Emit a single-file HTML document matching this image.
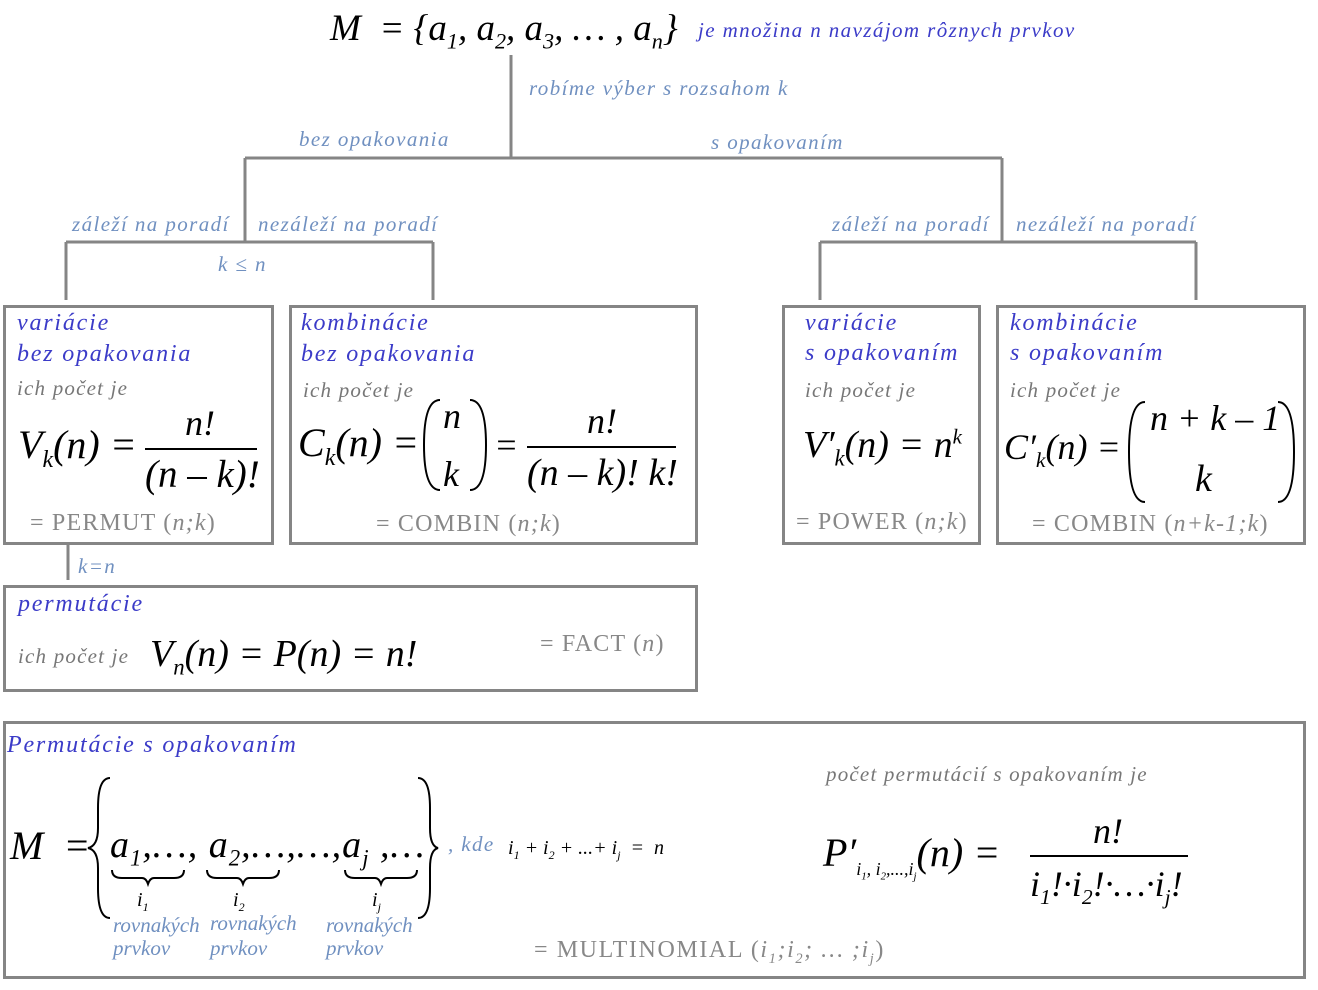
<!DOCTYPE html>
<html><head><meta charset="utf-8"><style>
body{margin:0;width:1318px;height:990px;background:#fff;position:relative;overflow:hidden;font-family:"Liberation Serif",serif}
.t{position:absolute;white-space:nowrap;line-height:1}
.h{color:#3b3bc8;font-style:italic;font-size:24px;letter-spacing:1.8px}
.l{color:#7090c0;font-style:italic;font-size:21px;letter-spacing:1.4px}
.g{color:#777;font-style:italic;font-size:21px;letter-spacing:1.2px}
.x{color:#888;font-size:24px;letter-spacing:1.2px}
.m{color:#000;font-style:italic}
.box{position:absolute;border:3px solid #858585;box-sizing:border-box}
sub{font-size:60%}
</style></head><body>
<svg width="1318" height="990" style="position:absolute;left:0;top:0" stroke="#858585" stroke-width="3" fill="none">
<path d="M511 55V158M245 158H1002M245 158V242M1002 158V242M66 242H433M66 242V300M433 242V300M820 242H1196M820 242V300M1196 242V300M68 544V580"/>
<g stroke="#000" stroke-width="2">
<path d="M440 400q-16 0-16 45q0 45 16 45M470 400q16 0 16 45q0 45-16 45"/>
<path d="M1145 402q-16 0-16 50q0 50 16 50M1278 402q16 0 16 50q0 50-16 50"/>
<path d="M145 449H257M527 447H676M1030 856H1188"/>
<path d="M112 870q0 8 10 8h20q4 0 6 6q2-6 6-6h20q10 0 10-8M207 870q0 8 10 8h20q4 0 6 6q2-6 6-6h20q10 0 10-8M345 870q0 8 10 8h20q4 0 6 6q2-6 6-6h20q10 0 10-8"/>
<path d="M110 778q-12 0-12 30v20q0 18-10 20q10 2 10 20v20q0 30 12 30M418 778q12 0 12 30v20q0 18 8 20q-8 2-8 20v20q0 30-12 30"/>
</g></svg>

<div class="t m" style="left:330px;top:10px;font-size:37px">M &nbsp;= {a<sub>1</sub>, a<sub>2</sub>, a<sub>3</sub>, … , a<sub>n</sub>}</div>
<div class="t h" style="left:698px;top:20px;font-size:21px;letter-spacing:1.4px">je množina n navzájom rôznych prvkov</div>
<div class="t l" style="left:529px;top:78px">robíme výber s rozsahom k</div>
<div class="t l" style="left:299px;top:129px">bez opakovania</div>
<div class="t l" style="left:711px;top:132px">s opakovaním</div>
<div class="t l" style="left:72px;top:214px">záleží na poradí</div>
<div class="t l" style="left:258px;top:214px">nezáleží na poradí</div>
<div class="t l" style="left:218px;top:254px">k ≤ n</div>
<div class="t l" style="left:832px;top:214px">záleží na poradí</div>
<div class="t l" style="left:1016px;top:214px">nezáleží na poradí</div>

<div class="box" style="left:3px;top:305px;width:271px;height:240px"></div>
<div class="box" style="left:289px;top:305px;width:409px;height:240px"></div>
<div class="box" style="left:782px;top:305px;width:199px;height:240px"></div>
<div class="box" style="left:996px;top:305px;width:310px;height:240px"></div>
<div class="box" style="left:3px;top:585px;width:695px;height:107px"></div>
<div class="box" style="left:3px;top:721px;width:1303px;height:258px"></div>

<div class="t h" style="left:17px;top:311px">variácie</div>
<div class="t h" style="left:17px;top:342px">bez opakovania</div>
<div class="t g" style="left:17px;top:378px">ich počet je</div>
<div class="t m" style="left:18px;top:425px;font-size:40px">V<sub>k</sub>(n) =</div>
<div class="t m" style="left:185px;top:405px;font-size:36px">n!</div>
<div class="t m" style="left:145px;top:455px;font-size:39px">(n – k)!</div>
<div class="t x" style="left:30px;top:511px">= PERMUT (<i>n;k</i>)</div>

<div class="t h" style="left:301px;top:311px">kombinácie</div>
<div class="t h" style="left:301px;top:342px">bez opakovania</div>
<div class="t g" style="left:303px;top:380px">ich počet je</div>
<div class="t m" style="left:298px;top:423px;font-size:40px">C<sub>k</sub>(n) =</div>
<div class="t m" style="left:443px;top:398px;font-size:36px">n</div>
<div class="t m" style="left:443px;top:456px;font-size:36px">k</div>
<div class="t m" style="left:494px;top:427px;font-size:36px">=</div>
<div class="t m" style="left:587px;top:403px;font-size:36px">n!</div>
<div class="t m" style="left:527px;top:454px;font-size:38px">(n – k)! k!</div>
<div class="t x" style="left:376px;top:512px">= COMBIN (<i>n;k</i>)</div>

<div class="t h" style="left:805px;top:311px">variácie</div>
<div class="t h" style="left:805px;top:341px">s opakovaním</div>
<div class="t g" style="left:805px;top:380px">ich počet je</div>
<div class="t m" style="left:803px;top:426px;font-size:38px">V′<sub>k</sub>(n) = n<sup style="font-size:55%">k</sup></div>
<div class="t x" style="left:796px;top:510px">= POWER (<i>n;k</i>)</div>

<div class="t h" style="left:1010px;top:311px">kombinácie</div>
<div class="t h" style="left:1010px;top:341px">s opakovaním</div>
<div class="t g" style="left:1010px;top:380px">ich počet je</div>
<div class="t m" style="left:1004px;top:429px;font-size:36px">C′<sub>k</sub>(n) =</div>
<div class="t m" style="left:1150px;top:400px;font-size:36px">n + k – 1</div>
<div class="t m" style="left:1195px;top:460px;font-size:38px">k</div>
<div class="t x" style="left:1032px;top:512px">= COMBIN (<i>n+k-1;k</i>)</div>

<div class="t h" style="left:18px;top:592px">permutácie</div>
<div class="t g" style="left:18px;top:646px">ich počet je</div>
<div class="t m" style="left:150px;top:635px;font-size:38px">V<sub>n</sub>(n) = P(n) = n!</div>
<div class="t x" style="left:540px;top:632px">= FACT (<i>n</i>)</div>
<div class="t l" style="left:78px;top:556px">k=n</div>

<div class="t h" style="left:7px;top:733px">Permutácie s opakovaním</div>
<div class="t m" style="left:10px;top:826px;font-size:40px">M &nbsp;=</div>
<div class="t m" style="left:110px;top:826px;font-size:38px;letter-spacing:1px">a<sub>1</sub>,…, a<sub>2</sub>,…,…,a<sub>j</sub> ,…</div>
<div class="t m" style="left:137px;top:890px;font-size:20px">i<sub>1</sub></div>
<div class="t m" style="left:233px;top:890px;font-size:20px">i<sub>2</sub></div>
<div class="t m" style="left:372px;top:890px;font-size:20px">i<sub>j</sub></div>
<div class="t l" style="left:113px;top:915px;letter-spacing:0">rovnakých</div>
<div class="t l" style="left:113px;top:938px;letter-spacing:0">prvkov</div>
<div class="t l" style="left:210px;top:913px;letter-spacing:0">rovnakých</div>
<div class="t l" style="left:210px;top:938px;letter-spacing:0">prvkov</div>
<div class="t l" style="left:326px;top:915px;letter-spacing:0">rovnakých</div>
<div class="t l" style="left:326px;top:938px;letter-spacing:0">prvkov</div>
<div class="t l" style="left:448px;top:834px">, kde</div>
<div class="t m" style="left:508px;top:838px;font-size:20px">i<sub>1</sub> + i<sub>2</sub> + ...+ i<sub>j</sub> &nbsp;= &nbsp;n</div>
<div class="t g" style="left:826px;top:764px">počet permutácií s opakovaním je</div>
<div class="t m" style="left:823px;top:833px;font-size:40px">P′<sub style="font-size:45%">i<sub>1</sub>, i<sub>2</sub>,...,i<sub>j</sub></sub>(n) =</div>
<div class="t m" style="left:1093px;top:813px;font-size:36px">n!</div>
<div class="t m" style="left:1030px;top:866px;font-size:36px">i<sub>1</sub>!·i<sub>2</sub>!·…·i<sub>j</sub>!</div>
<div class="t x" style="left:534px;top:938px;letter-spacing:1.6px">= MULTINOMIAL (<i>i<sub>1</sub>;i<sub>2</sub>; … ;i<sub>j</sub></i>)</div>
</body></html>
